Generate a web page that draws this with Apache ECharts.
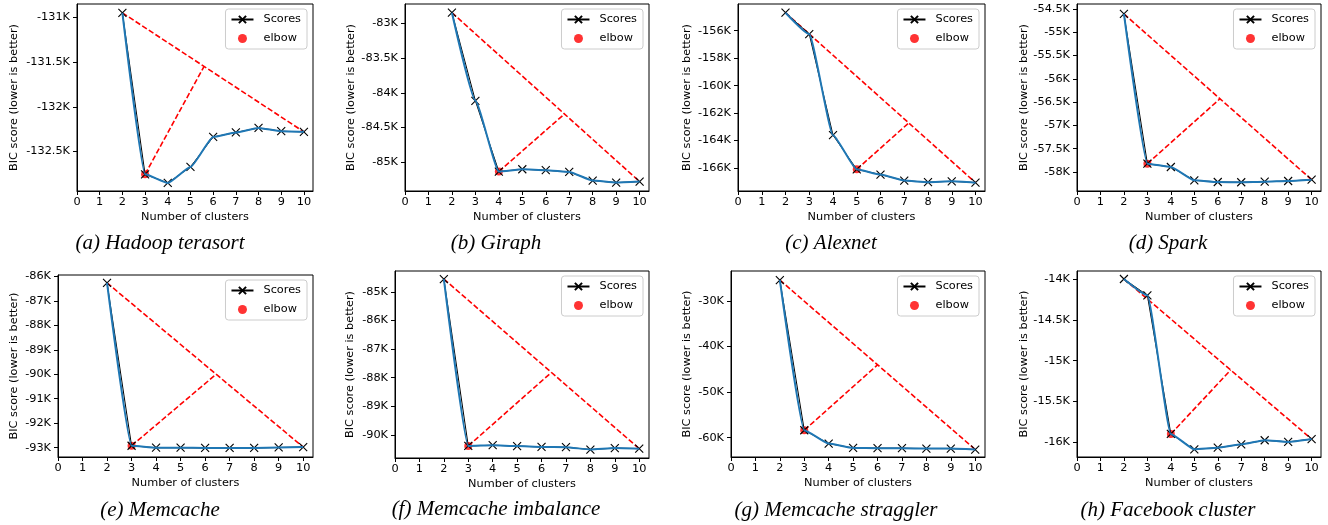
<!DOCTYPE html>
<html><head><meta charset="utf-8">
<script src="https://cdn.jsdelivr.net/npm/echarts@6/dist/echarts.min.js"></script>
<style>html,body{margin:0;padding:0;background:#fff}#c{width:1328px;height:525px}</style>
</head><body><div id="c"></div>
<script>
// ---------- data ----------
const clusters = [2, 3, 4, 5, 6, 7, 8, 9, 10];
const xTicks = [0, 1, 2, 3, 4, 5, 6, 7, 8, 9, 10];
const captions = ['(a) Hadoop terasort', '(b) Giraph', '(c) Alexnet', '(d) Spark',
  '(e) Memcache', '(f) Memcache imbalance', '(g) Memcache straggler', '(h) Facebook cluster'];

const scoresA = [-130950, -132754, -132851, -132672, -132337, -132287, -132236, -132273, -132280];
const scoresB = [-82847, -84115, -85134, -85101, -85115, -85140, -85264, -85293, -85279];
const scoresC = [-154686, -156240, -163610, -166100, -166480, -166920, -167040, -166970, -167070];
const scoresD = [-54607, -57822, -57893, -58178, -58215, -58220, -58208, -58193, -58165];
const scoresE = [-86270, -92920, -93000, -93000, -93010, -93010, -93010, -92990, -92975];
const scoresF = [-84555, -90386, -90360, -90390, -90420, -90430, -90510, -90460, -90480];
const scoresG = [-25460, -58380, -61300, -62260, -62300, -62300, -62400, -62400, -62600];
const scoresH = [-14000, -14200, -15898, -16086, -16066, -16025, -15975, -15996, -15960];

const elbowK = [3, 4, 5, 3, 3, 3, 3, 4];

// foot of the perpendicular from the elbow onto the first-last chord
const footA = [5.6, -131548];
const footB = [6.8, -84305];
const footC = [7.2, -162700];
const footD = [6.1, -56425];
const footE = [6.45, -90000];
const footF = [6.4, -87820];
const footG = [6.0, -44050];
const footH = [6.55, -15115];

const yTicksA = [-131000, -131500, -132000, -132500];
const yTicksB = [-83000, -83500, -84000, -84500, -85000];
const yTicksC = [-156000, -158000, -160000, -162000, -164000, -166000];
const yTicksD = [-54500, -55000, -55500, -56000, -56500, -57000, -57500, -58000];
const yTicksE = [-86000, -87000, -88000, -89000, -90000, -91000, -92000, -93000];
const yTicksF = [-85000, -86000, -87000, -88000, -89000, -90000];
const yTicksG = [-30000, -40000, -50000, -60000];
const yTicksH = [-14000, -14500, -15000, -15500, -16000];

const yRangeA = [-132941, -130851];
const yRangeB = [-85414, -82722];
const yRangeC = [-167679, -154051];
const yRangeD = [-58408, -54393];
const yRangeE = [-93379, -85947];
const yRangeF = [-90806, -84274];
const yRangeG = [-64240, -23480];
const yRangeH = [-16180, -13902];

const allScores = [scoresA, scoresB, scoresC, scoresD, scoresE, scoresF, scoresG, scoresH];
const allFeet = [footA, footB, footC, footD, footE, footF, footG, footH];
const allYTicks = [yTicksA, yTicksB, yTicksC, yTicksD, yTicksE, yTicksF, yTicksG, yTicksH];
const allYRanges = [yRangeA, yRangeB, yRangeC, yRangeD, yRangeE, yRangeF, yRangeG, yRangeH];

// ---------- layout ----------
const W = 1328;
const grids = [
  [77, 4, 236, 187], [405, 4, 244, 187], [738, 4, 247, 187], [1077, 4, 244, 187],
  [58, 275, 255, 182], [395, 271, 254, 187], [731, 271, 254, 186], [1077, 271, 244, 186]
];
const yNameGaps = [57, 48, 45, 47, 38, 39, 38, 47];
const captionPos = [[160, 243], [496, 243], [831, 243], [1168, 243], [160, 510], [496, 509], [836, 510], [1168, 510]];

const FONT = 'DejaVu Sans';
const xPath = 'path://M0,0L10,10M10,0L0,10';
const txt = { color: '#000', fontSize: 11.3, fontFamily: FONT };

const option = { animation: false, grid: [], xAxis: [], yAxis: [], series: [], legend: [], graphic: [] };

grids.forEach((g, i) => {
  const [l, t, w, h] = g;
  option.grid.push({ left: l, top: t, width: w, height: h, show: true, borderColor: '#000', borderWidth: 1, backgroundColor: 'transparent' });
  option.xAxis.push({
    type: 'value', gridIndex: i, min: 0, max: 10.4,
    name: 'Number of clusters', nameLocation: 'middle', nameGap: 21, nameTextStyle: txt,
    axisLine: { show: true, onZero: false, lineStyle: { color: '#000', width: 1 } },
    axisTick: { show: true, length: 4, lineStyle: { color: '#000', width: 1 }, customValues: xTicks },
    axisLabel: { ...txt, margin: 6, customValues: xTicks },
    splitLine: { show: false }
  });
  const yt = allYTicks[i];
  option.yAxis.push({
    type: 'value', gridIndex: i, min: allYRanges[i][0], max: allYRanges[i][1],
    name: 'BIC score (lower is better)', nameLocation: 'middle', nameGap: yNameGaps[i], nameRotate: 90, nameTextStyle: txt,
    axisLine: { show: true, lineStyle: { color: '#000', width: 1 } },
    axisTick: { show: true, length: 4, lineStyle: { color: '#000', width: 1 }, customValues: yt },
    axisLabel: { ...txt, margin: 7, customValues: yt, formatter: v => (v / 1000) + 'K' },
    splitLine: { show: false }
  });
  const s = allScores[i];
  const pts = clusters.map((k, j) => [k, s[j]]);
  const ei = clusters.indexOf(elbowK[i]);
  const elbowPt = [clusters[ei], s[ei]];
  const dash = { color: '#ff0000', width: 1.6, type: [5.5, 2.4] };
  option.series.push(
    { type: 'line', name: 'chord', xAxisIndex: i, yAxisIndex: i, data: [pts[0], pts[pts.length - 1]], symbol: 'none', lineStyle: dash, z: 2, silent: true },
    { type: 'line', name: 'perp', xAxisIndex: i, yAxisIndex: i, data: [elbowPt, allFeet[i]], symbol: 'none', lineStyle: dash, z: 2, silent: true },
    { type: 'scatter', name: 'elbow', xAxisIndex: i, yAxisIndex: i, data: [elbowPt], symbol: 'circle', symbolSize: 8, itemStyle: { color: '#ff0000' }, z: 3 },
    { type: 'line', name: 'Scores', xAxisIndex: i, yAxisIndex: i, data: pts, symbol: xPath, symbolSize: 8, showAllSymbol: true,
      lineStyle: { color: '#000', width: 1 }, itemStyle: { color: '#000', borderColor: '#000', borderWidth: 1.1 }, z: 4 },
    { type: 'line', name: 'fit', xAxisIndex: i, yAxisIndex: i, data: pts, symbol: 'none', smooth: 0.15, smoothMonotone: 'x',
      lineStyle: { color: '#1f77b4', width: 2 }, z: 5, silent: true }
  );
  option.legend.push({
    data: ['Scores', 'elbow'], orient: 'vertical', right: W - (l + w - 6), top: t + 5,
    itemWidth: 22, itemHeight: 9, itemGap: 8, padding: [5, 6, 5, 5],
    backgroundColor: '#fff', borderColor: '#cccccc', borderWidth: 1, borderRadius: 3,
    textStyle: { ...txt, padding: [0, 0, 0, 5] }, selectedMode: false
  });
  option.graphic.push({
    type: 'text', x: captionPos[i][0], y: captionPos[i][1],
    style: { text: captions[i], font: 'italic 21px "Liberation Serif", "Times New Roman", serif', fill: '#000', textAlign: 'center', textVerticalAlign: 'middle' }
  });
});

const chart = echarts.init(document.getElementById('c'), null, { renderer: 'canvas' });
chart.setOption(option);
</script>
</body></html>
